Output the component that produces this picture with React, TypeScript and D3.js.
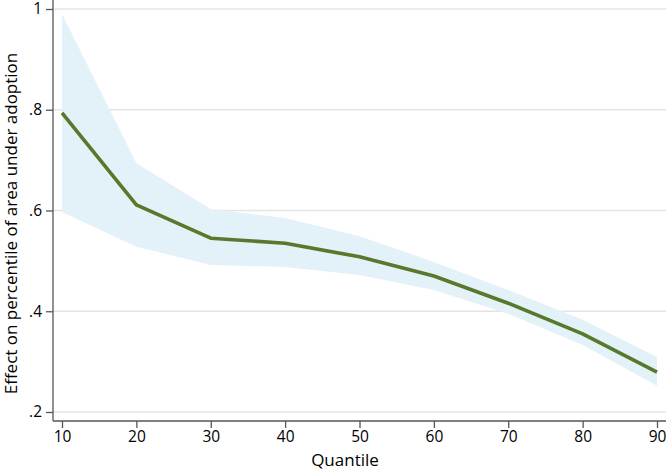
import React, { useEffect, useRef } from 'react';
import * as d3 from 'd3';

// quantile estimates with confidence band
const quantiles = [10, 20, 30, 40, 50, 60, 70, 80, 90];
const effect = [0.794, 0.611, 0.545, 0.535, 0.508, 0.470, 0.416, 0.355, 0.279];
const upper = [0.990, 0.694, 0.603, 0.585, 0.549, 0.498, 0.442, 0.383, 0.309];
const lower = [0.597, 0.528, 0.492, 0.488, 0.472, 0.442, 0.395, 0.333, 0.252];
const yTicks = [0.2, 0.4, 0.6, 0.8, 1];
const xTicks = [10, 20, 30, 40, 50, 60, 70, 80, 90];

const App: React.FC = () => {
  const svgRef = useRef<SVGSVGElement | null>(null);

  useEffect(() => {
    const width = 666;
    const height = 472;
    const font = "'Open Sans', 'DejaVu Sans', sans-serif";

    const svg = d3.select(svgRef.current);
    svg.selectAll("*").remove();
    svg.attr("width", width).attr("height", height);

    const x = d3.scaleLinear().domain([10, 90]).range([62, 657]);
    const y = d3.scaleLinear().domain([0.2, 1]).range([412, 9]);
    const axisX = 53;
    const axisY = 421;

    // gridlines
    svg.append("g")
      .selectAll("line")
      .data(yTicks)
      .join("line")
      .attr("x1", axisX)
      .attr("x2", width)
      .attr("y1", d => y(d))
      .attr("y2", d => y(d))
      .attr("stroke", "#e4e4e4")
      .attr("stroke-width", 1.3);

    const rows = quantiles.map((q, i) => ({ q, m: effect[i], lo: lower[i], hi: upper[i] }));

    svg.append("path")
      .datum(rows)
      .attr("fill", "#e3f1f8")
      .attr("d", d3.area<typeof rows[0]>()
        .x(d => x(d.q))
        .y0(d => y(d.lo))
        .y1(d => y(d.hi)));

    svg.append("path")
      .datum(rows)
      .attr("fill", "none")
      .attr("stroke", "#58782c")
      .attr("stroke-width", 3.6)
      .attr("stroke-linejoin", "round")
      .attr("d", d3.line<typeof rows[0]>()
        .x(d => x(d.q))
        .y(d => y(d.m)));

    // y axis
    const yAxis = svg.append("g")
      .attr("transform", `translate(${axisX},0)`)
      .call(d3.axisLeft(y)
        .tickValues(yTicks)
        .tickSize(7)
        .tickPadding(4)
        .tickFormat(d => d3.format(".1f")(+d).replace(/^0/, "").replace(/\.0$/, "")));
    yAxis.select(".domain").attr("d", `M0,0V${axisY}`).attr("stroke", "#555").attr("stroke-width", 1.3);
    yAxis.selectAll(".tick line").attr("stroke", "#555").attr("stroke-width", 1.3);
    yAxis.selectAll("text").attr("font-family", font).attr("font-size", 15.5).attr("fill", "#000");

    // x axis
    const xAxis = svg.append("g")
      .attr("transform", `translate(0,${axisY})`)
      .call(d3.axisBottom(x)
        .tickValues(xTicks)
        .tickSize(7)
        .tickPadding(3)
        .tickFormat(d3.format("d")));
    xAxis.select(".domain").attr("d", `M${axisX},0H${width}`).attr("stroke", "#555").attr("stroke-width", 1.3);
    xAxis.selectAll(".tick line").attr("stroke", "#555").attr("stroke-width", 1.3);
    xAxis.selectAll("text").attr("font-family", font).attr("font-size", 15.5).attr("fill", "#000");

    svg.append("text")
      .attr("x", 345)
      .attr("y", 466)
      .attr("text-anchor", "middle")
      .attr("font-family", font)
      .attr("font-size", 17)
      .text("Quantile");

    svg.append("text")
      .attr("transform", `translate(16.5,223.5) rotate(-90)`)
      .attr("text-anchor", "middle")
      .attr("font-family", font)
      .attr("font-size", 17)
      .text("Effect on percentile of area under adoption");
  }, []);

  return (
    <div style={{ position: "absolute", left: 0, top: 0 }}>
      <svg ref={svgRef}></svg>
    </div>
  );
};

export default App;
